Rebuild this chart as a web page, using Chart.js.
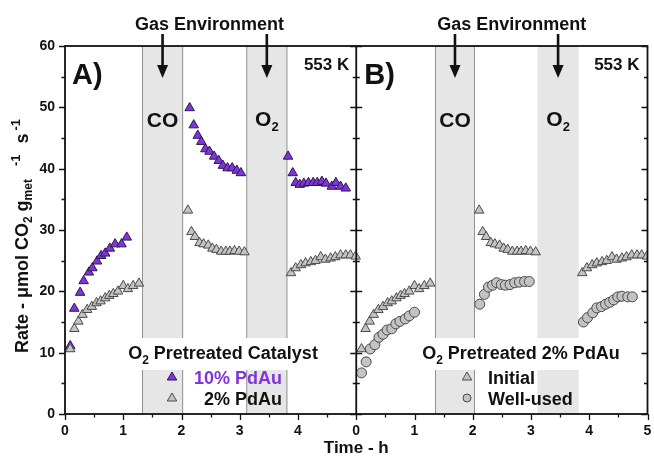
<!DOCTYPE html>
<html><head><meta charset="utf-8">
<script src="https://cdn.jsdelivr.net/npm/chart.js@4/dist/chart.umd.min.js"></script>
<style>html,body{margin:0;padding:0;background:#fff;}</style>
</head><body>
<canvas id="c" width="654" height="459"></canvas>
<script>
const FONT = "'Liberation Sans', Arial, sans-serif";

// ---- axis / tick labels ----
const xTickLabels = ['0','1','2','3','4','0','1','2','3','4','5'];
const yTickLabels = ['0','10','20','30','40','50','60'];
const panelOffsets = [0, 5];

// ---- gas environment windows (h) ----
const coWindowA = [1.33, 2.02];
const o2WindowA = [3.12, 3.81];
const coWindowB = [1.36, 2.03];
const o2WindowB = [3.11, 3.82];

// ---- 10% PdAu, O2 pretreated (panel A) ----
const pd10Time = [0.09,0.16,0.26,0.32,0.41,0.47,0.55,0.62,0.69,0.77,0.86,0.97,1.06,
                  2.14,2.21,2.28,2.34,2.41,2.48,2.56,2.64,2.71,2.79,2.87,2.95,3.02,
                  3.83,3.91,3.96,4.03,4.10,4.18,4.26,4.33,4.41,4.48,4.58,4.65,4.73,4.82];
const pd10Rate = [11.1,17.2,19.8,21.7,23.1,23.8,24.9,25.8,26.2,27.0,27.7,27.7,28.8,
                  49.9,47.1,45.4,44.4,43.2,42.8,42.0,41.3,40.5,40.1,40.1,39.7,39.3,
                  42.0,39.3,37.7,37.4,37.6,37.7,37.7,37.7,37.9,37.6,37.1,37.7,37.1,36.8];

// ---- 2% PdAu, O2 pretreated (panel A) = Initial (panel B) ----
const pd2Time = [0.09,0.16,0.23,0.30,0.38,0.46,0.54,0.61,0.69,0.76,0.83,0.91,1.00,1.08,1.17,1.27,
                 2.11,2.17,2.23,2.31,2.38,2.46,2.53,2.60,2.68,2.76,2.83,2.91,2.99,3.08,
                 3.88,3.96,4.05,4.13,4.22,4.30,4.39,4.47,4.56,4.64,4.73,4.82,4.90,4.99];
const pd2Rate = [10.6,13.9,15.1,16.2,17.0,17.5,18.1,18.4,18.9,19.3,19.6,20.0,20.9,20.4,20.9,21.3,
                 33.2,29.7,28.9,27.9,27.7,27.5,27.0,26.8,26.5,26.5,26.5,26.6,26.5,26.4,
                 23.0,23.8,24.3,24.6,24.8,25.0,25.6,25.2,25.4,25.6,25.9,25.9,25.9,25.7];

// ---- 2% PdAu well-used (panel B) ----
const usedTime = [0.09,0.17,0.24,0.32,0.39,0.46,0.53,0.61,0.68,0.75,0.84,0.91,1.00,
                  2.12,2.20,2.27,2.34,2.41,2.49,2.56,2.64,2.72,2.80,2.89,2.97,
                  3.90,3.97,4.06,4.13,4.21,4.28,4.35,4.42,4.49,4.56,4.66,4.74];
const usedRate = [6.7,8.5,10.6,11.3,12.5,13.0,13.7,13.9,14.7,15.1,15.5,16.0,16.6,
                  17.9,19.5,20.7,21.0,21.4,21.1,21.0,21.1,21.4,21.5,21.6,21.6,
                  15.0,15.7,16.5,17.3,17.5,17.9,18.2,18.6,19.1,19.2,19.1,19.1];

const PURPLE = '#8133dc';
const GRAYFILL = '#c3c3c3';
const GRAYEDGE = '#4a4a4a';

const toPts = (t, v, off) => t.map((ti, i) => ({x: ti + off, y: v[i]}));

function drawRuns(ctx, runs, x, y, align) {
  let total = 0;
  runs.forEach(r => { ctx.font = 'bold ' + r.size + 'px ' + FONT; r.w = ctx.measureText(r.t).width + (r.gap || 0); total += r.w; });
  let cx = align === 'center' ? x - total / 2 : (align === 'right' ? x - total : x);
  ctx.textAlign = 'left'; ctx.textBaseline = 'alphabetic';
  runs.forEach(r => { ctx.font = 'bold ' + r.size + 'px ' + FONT; ctx.fillText(r.t, cx + (r.gap || 0), y + (r.dy || 0)); cx += r.w; });
}

function tri(ctx, x, y, r, fill, edge) {
  ctx.beginPath();
  ctx.moveTo(x, y - r);
  ctx.lineTo(x + r * 0.95, y + r * 0.6);
  ctx.lineTo(x - r * 0.95, y + r * 0.6);
  ctx.closePath();
  ctx.fillStyle = fill; ctx.fill();
  ctx.strokeStyle = edge; ctx.lineWidth = 1; ctx.stroke();
}

const overlay = {
  id: 'overlay',
  beforeDatasetsDraw(chart) {
    const {ctx, chartArea: a, scales: {x}} = chart;
    ctx.save();
    const wins = [
      {w: coWindowA, off: panelOffsets[0], edge: true},
      {w: o2WindowA, off: panelOffsets[0], edge: true},
      {w: coWindowB, off: panelOffsets[1], edge: true},
      {w: o2WindowB, off: panelOffsets[1], edge: false}
    ];
    wins.forEach(s => {
      const x0 = x.getPixelForValue(s.w[0] + s.off), x1 = x.getPixelForValue(s.w[1] + s.off);
      ctx.fillStyle = '#e6e6e6';
      ctx.fillRect(x0, a.top, x1 - x0, a.bottom - a.top);
      if (s.edge) {
        ctx.strokeStyle = '#8f8f8f'; ctx.lineWidth = 1;
        ctx.beginPath();
        ctx.moveTo(x0, a.top); ctx.lineTo(x0, a.bottom);
        ctx.moveTo(x1, a.top); ctx.lineTo(x1, a.bottom);
        ctx.stroke();
      }
    });
    ctx.fillStyle = '#ffffff';
    ctx.fillRect(118, 338, 210, 32);
    ctx.fillRect(417, 338, 208, 32);
    ctx.restore();
  },
  afterDraw(chart) {
    const {ctx, chartArea: a, scales: {x, y}} = chart;
    ctx.save();
    ctx.fillStyle = '#111'; ctx.strokeStyle = '#111';
    ctx.lineWidth = 1.8;
    ctx.strokeRect(a.left, a.top, a.right - a.left, a.bottom - a.top);
    const xm = x.getPixelForValue(5);
    ctx.beginPath(); ctx.moveTo(xm, a.top); ctx.lineTo(xm, a.bottom); ctx.stroke();
    ctx.lineWidth = 1.3;
    ctx.beginPath();
    for (let v = 0; v <= 60; v += 5) {
      const py = Math.round(y.getPixelForValue(v)) + 0.5;
      const len = v % 10 === 0 ? 6 : 3.5;
      ctx.moveTo(a.left - len, py); ctx.lineTo(a.left, py);
      ctx.moveTo(xm - len, py); ctx.lineTo(xm + len, py);
      ctx.moveTo(a.right - len, py); ctx.lineTo(a.right, py);
    }
    for (let t = 0; t <= 10; t += 0.5) {
      const px = Math.round(x.getPixelForValue(t)) + 0.5;
      const len = t % 1 === 0 ? 6 : 3.5;
      ctx.moveTo(px, a.bottom); ctx.lineTo(px, a.bottom + len);
    }
    ctx.stroke();

    ctx.fillStyle = '#111';
    drawRuns(ctx, [{t: 'Time - h', size: 17}], xm, 453, 'center');

    ctx.save();
    ctx.translate(28, 236);
    ctx.rotate(-Math.PI / 2);
    drawRuns(ctx, [
      {t: 'Rate - ', size: 18}, {t: '\u03bc', size: 18}, {t: 'mol CO', size: 18},
      {t: '2', size: 12, dy: 4}, {t: ' g', size: 18}, {t: 'met', size: 12, dy: 4},
      {t: '-1', size: 13, dy: -8, gap: 13}, {t: ' s', size: 18, gap: 6}, {t: '-1', size: 13, dy: -8, gap: 3}
    ], 0, 0, 'center');
    ctx.restore();

    const headers = [x.getPixelForValue(2.48), x.getPixelForValue(5 + 2.67)];
    headers.forEach(cx => drawRuns(ctx, [{t: 'Gas Environment', size: 18}], cx, 30, 'center'));
    const arrowsAt = [
      (coWindowA[0] + coWindowA[1]) / 2, (o2WindowA[0] + o2WindowA[1]) / 2,
      5 + (coWindowB[0] + coWindowB[1]) / 2, 5 + (o2WindowB[0] + o2WindowB[1]) / 2
    ];
    arrowsAt.forEach(t => {
      const px = x.getPixelForValue(t);
      ctx.lineWidth = 2.6;
      ctx.beginPath(); ctx.moveTo(px, 34); ctx.lineTo(px, 68); ctx.stroke();
      ctx.beginPath(); ctx.moveTo(px - 5.5, 65); ctx.lineTo(px + 5.5, 65); ctx.lineTo(px, 78); ctx.closePath(); ctx.fill();
    });
    [arrowsAt[0], arrowsAt[2]].forEach(t => drawRuns(ctx, [{t: 'CO', size: 21}], x.getPixelForValue(t), 127, 'center'));
    [arrowsAt[1], arrowsAt[3]].forEach(t => drawRuns(ctx, [{t: 'O', size: 21}, {t: '2', size: 13, dy: 5}], x.getPixelForValue(t), 126, 'center'));

    drawRuns(ctx, [{t: 'A)', size: 29}], a.left + 7, 84, 'left');
    drawRuns(ctx, [{t: 'B)', size: 29}], xm + 8, 84, 'left');
    drawRuns(ctx, [{t: '553 K', size: 17}], xm - 7, 70, 'right');
    drawRuns(ctx, [{t: '553 K', size: 17}], a.right - 8, 70, 'right');

    drawRuns(ctx, [{t: 'O', size: 18}, {t: '2', size: 12, dy: 5}, {t: ' Pretreated Catalyst', size: 18}], 223, 359, 'center');
    tri(ctx, 172, 377, 5, PURPLE, '#2b1a4d');
    ctx.fillStyle = PURPLE;
    drawRuns(ctx, [{t: '10% PdAu', size: 18}], 282, 384, 'right');
    tri(ctx, 172, 398, 5, GRAYFILL, GRAYEDGE);
    ctx.fillStyle = '#111';
    drawRuns(ctx, [{t: '2% PdAu', size: 18}], 282, 405, 'right');

    drawRuns(ctx, [{t: 'O', size: 18}, {t: '2', size: 12, dy: 5}, {t: ' Pretreated 2% PdAu', size: 18}], 521, 359, 'center');
    tri(ctx, 467, 377, 5, GRAYFILL, GRAYEDGE);
    ctx.fillStyle = '#111';
    drawRuns(ctx, [{t: 'Initial', size: 18}], 488, 384, 'left');
    ctx.beginPath(); ctx.arc(467, 398, 4, 0, Math.PI * 2);
    ctx.fillStyle = GRAYFILL; ctx.fill(); ctx.strokeStyle = GRAYEDGE; ctx.lineWidth = 1; ctx.stroke();
    ctx.fillStyle = '#111';
    drawRuns(ctx, [{t: 'Well-used', size: 18}], 488, 405, 'left');
    ctx.restore();
  }
};

const triStyle = (fill, edge) => ({pointStyle: 'triangle', pointRadius: 5.5, backgroundColor: fill, borderColor: edge, borderWidth: 1});

new Chart(document.getElementById('c'), {
  type: 'scatter',
  data: {
    datasets: [
      Object.assign({label: '2% PdAu', data: toPts(pd2Time, pd2Rate, panelOffsets[0])}, triStyle(GRAYFILL, GRAYEDGE)),
      Object.assign({label: '10% PdAu', data: toPts(pd10Time, pd10Rate, panelOffsets[0])}, triStyle(PURPLE, '#2b1a4d')),
      Object.assign({label: 'Initial', data: toPts(pd2Time, pd2Rate, panelOffsets[1])}, triStyle(GRAYFILL, GRAYEDGE)),
      {label: 'Well-used', data: toPts(usedTime, usedRate, panelOffsets[1]), pointStyle: 'circle', pointRadius: 5,
       backgroundColor: GRAYFILL, borderColor: GRAYEDGE, borderWidth: 1}
    ]
  },
  options: {
    responsive: false,
    animation: false,
    devicePixelRatio: 1,
    layout: {padding: {top: 46, right: 4, left: 0, bottom: 0}},
    plugins: {legend: {display: false}, tooltip: {enabled: false}},
    scales: {
      x: {
        type: 'linear', min: 0, max: 10,
        afterFit: s => { s.height = 45; s.paddingLeft = 0; s.paddingRight = 0; },
        afterBuildTicks: s => { s.ticks = xTickLabels.map((_, i) => ({value: i})); },
        grid: {display: false, drawTicks: false},
        border: {display: false},
        ticks: {autoSkip: false, maxRotation: 0, padding: 9, color: '#111',
                font: {family: FONT, size: 14, weight: 'bold'},
                callback: (v) => xTickLabels[Math.round(v)]}
      },
      y: {
        type: 'linear', min: 0, max: 60,
        afterFit: s => { s.width = 65; s.paddingTop = 0; s.paddingBottom = 0; },
        afterBuildTicks: s => { s.ticks = yTickLabels.map(l => ({value: Number(l)})); },
        grid: {display: false, drawTicks: false},
        border: {display: false},
        ticks: {padding: 10, color: '#111', font: {family: FONT, size: 14, weight: 'bold'},
                callback: (v) => yTickLabels[Math.round(v / 10)]}
      }
    }
  },
  plugins: [overlay]
});
</script>
</body></html>
